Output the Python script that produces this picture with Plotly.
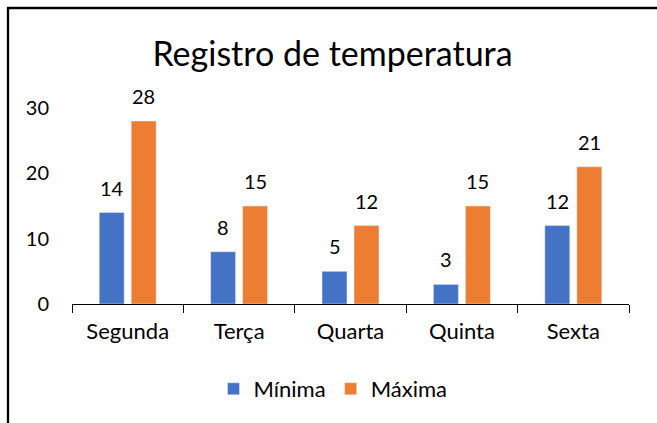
import plotly.graph_objects as go

categories = ["Segunda", "Terça", "Quarta", "Quinta", "Sexta"]
minima = [14, 8, 5, 3, 12]
maxima = [28, 15, 12, 15, 21]
series_names = ["Mínima", "Máxima"]
y_ticks = [0, 10, 20, 30]

W, H = 657, 423
L, R, T, B = 72, 629, 108, 304
pw, ph = R - L, B - T

def px(x):
    return (x - L) / pw

def py(y):
    return (B - y) / ph

FONT = "Lato"
BLUE = "#4472C4"
ORANGE = "#ED7D31"

fig = go.Figure()
fig.add_trace(go.Bar(x=categories, y=minima, name=series_names[0], marker_color=BLUE))
fig.add_trace(go.Bar(x=categories, y=maxima, name=series_names[1], marker_color=ORANGE))

annotations = []
for vals, shift in ((minima, -16), (maxima, 16)):
    for c, v in zip(categories, vals):
        annotations.append(dict(x=c, y=v, xref="x", yref="y", text=str(v), showarrow=False,
                                xshift=shift, yshift=25, yanchor="middle",
                                font=dict(family=FONT, size=20, color="#000")))

fig.update_layout(
    width=W, height=H,
    margin=dict(l=L, r=W - R, t=T, b=H - B, pad=0),
    paper_bgcolor="white", plot_bgcolor="white",
    bargap=0.4255, bargroupgap=0.22,
    font=dict(family=FONT, size=20, color="#000"),
    title=dict(text="Registro de temperatura", x=332.5 / W, xanchor="center",
               y=1 - 54 / H, yanchor="middle", yref="container",
               font=dict(family=FONT, size=34, color="#000")),
    legend=dict(orientation="h", x=px(333), xanchor="center", y=py(389), yanchor="middle",
                font=dict(family=FONT, size=22, color="#000"), bgcolor="rgba(0,0,0,0)"),
    annotations=annotations,
    shapes=[dict(type="rect", xref="paper", yref="paper",
                 x0=px(8), x1=px(720), y0=py(520), y1=py(8),
                 line=dict(color="#000", width=2.3), layer="above")],
    xaxis=dict(showline=True, linecolor="#000", linewidth=1, ticks="outside", ticklen=8,
               tickcolor="#000", tickwidth=1, tickson="boundaries", showgrid=False,
               ticklabelstandoff=8, tickfont=dict(family=FONT, size=22, color="#000")),
    yaxis=dict(range=[0, 30], tickvals=y_ticks, showline=False, showgrid=False, zeroline=False,
               ticks="", ticklabelstandoff=22, tickfont=dict(family=FONT, size=20, color="#000")),
)

fig.write_html("out.html", config={"displayModeBar": False},
               post_script="document.body.style.margin='0';document.body.style.overflow='hidden';")
